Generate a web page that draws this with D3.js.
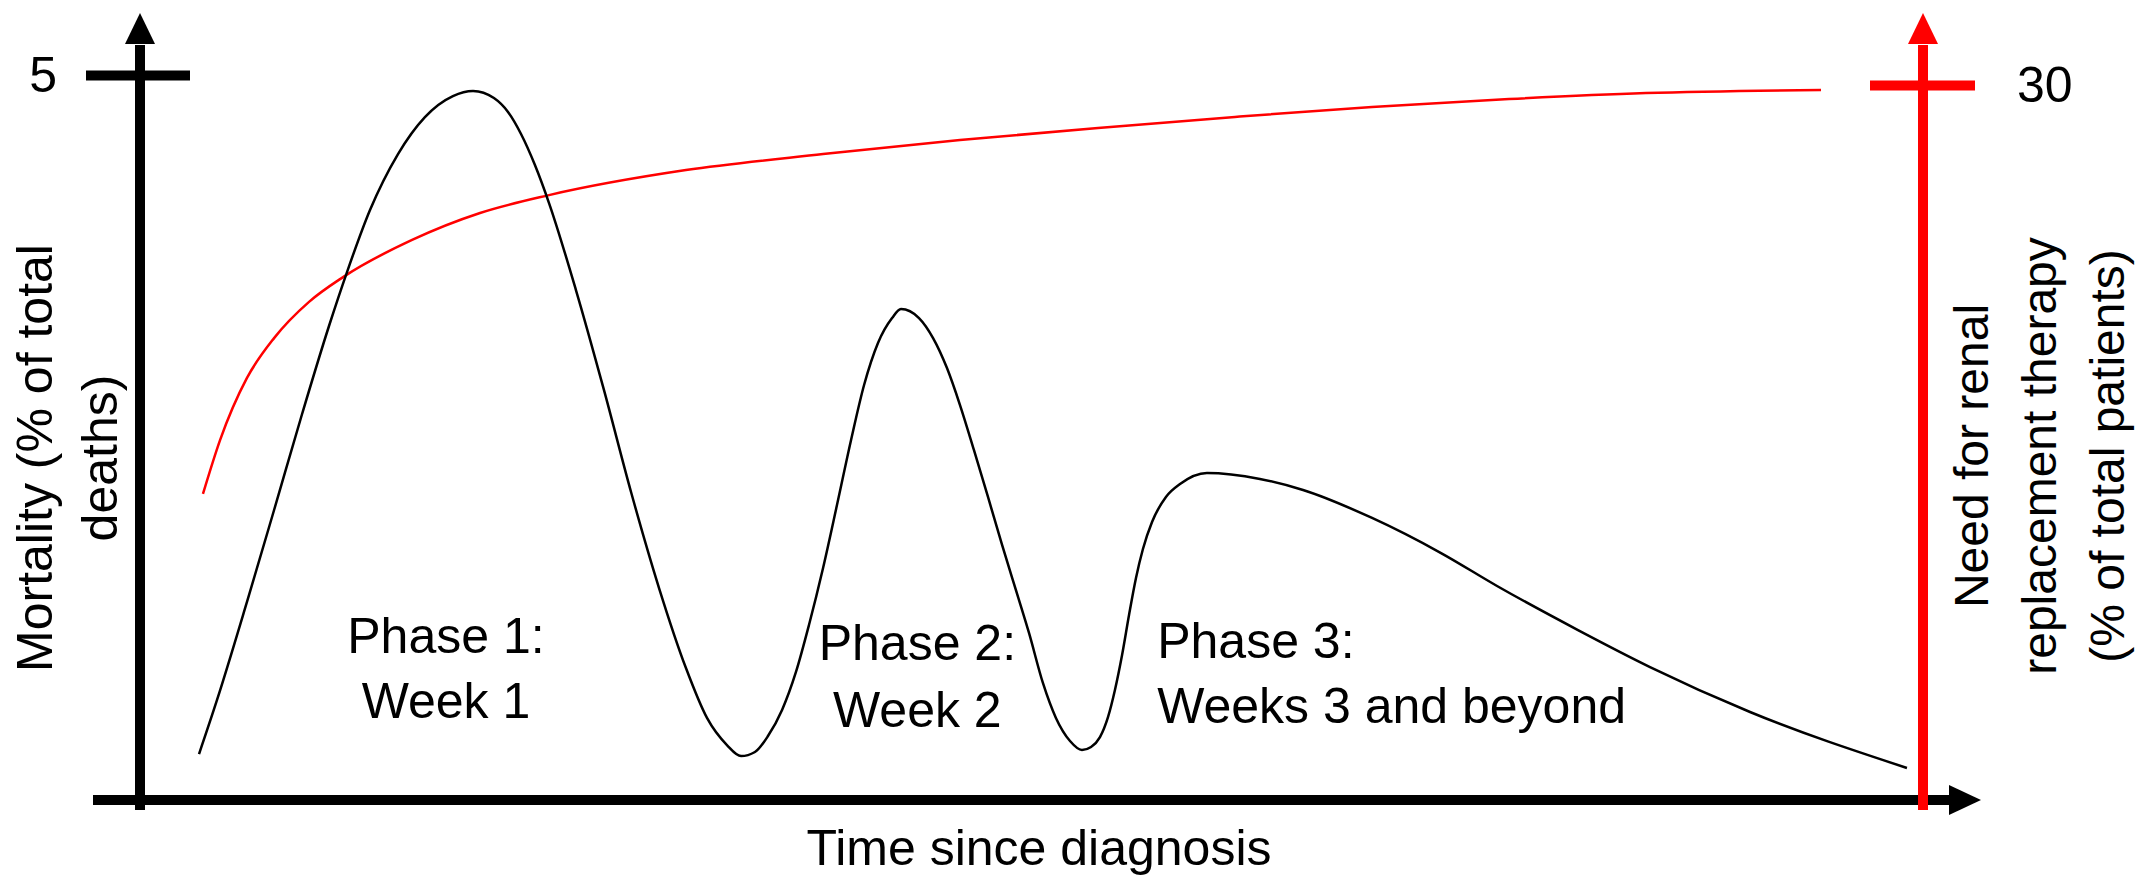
<!DOCTYPE html>
<html>
<head>
<meta charset="utf-8">
<script src="https://cdn.jsdelivr.net/npm/d3@7"></script>
<style>
  html, body { margin: 0; padding: 0; background: #fff; }
  svg { display: block; }
  text { font-family: "Liberation Sans", Arial, sans-serif; fill: #000; }
</style>
</head>
<body>
<svg id="chart" width="2151" height="894"></svg>
<script>
// ---- Data (time in arbitrary units since diagnosis, 0..100) ----
const mortalityTime = [3.31, 4.32, 6.00, 7.52, 9.09, 10.60, 11.61, 12.90, 14.47, 15.98, 17.55, 18.68, 19.85, 20.64, 21.37, 22.15, 22.94, 24.45, 26.02, 27.54, 29.11, 30.62, 31.80, 32.92, 33.71, 34.49, 35.22, 36.01, 36.79, 37.52, 38.31, 39.09, 39.88, 40.61, 41.39, 42.18, 42.68, 43.69, 44.48, 45.26, 45.99, 46.77, 47.56, 48.35, 49.30, 49.86, 50.64, 51.37, 52.16, 52.83, 53.34, 53.84, 54.29, 54.68, 55.08, 55.47, 55.86, 56.25, 56.76, 57.54, 58.33, 59.84, 62.81, 65.23, 69.10, 72.97, 76.11, 80.65, 84.69, 90.30, 99.10];
const mortalityValue = [0.317, 0.690, 1.366, 2.000, 2.662, 3.269, 3.641, 4.069, 4.455, 4.710, 4.855, 4.890, 4.841, 4.745, 4.593, 4.379, 4.117, 3.517, 2.828, 2.124, 1.462, 0.910, 0.566, 0.379, 0.303, 0.331, 0.441, 0.621, 0.883, 1.207, 1.600, 2.034, 2.483, 2.862, 3.152, 3.324, 3.386, 3.324, 3.186, 2.979, 2.724, 2.414, 2.090, 1.759, 1.379, 1.152, 0.807, 0.566, 0.407, 0.345, 0.366, 0.434, 0.572, 0.759, 1.000, 1.276, 1.531, 1.731, 1.917, 2.090, 2.179, 2.255, 2.214, 2.138, 1.945, 1.703, 1.476, 1.172, 0.917, 0.607, 0.221];

const rrtTime  = [3.53, 4.49, 6.00, 7.52, 9.48, 11.39, 15.26, 19.07, 22.94, 30.62, 38.31, 45.99, 53.73, 61.41, 69.10, 76.78, 84.46, 94.28];
const rrtValue = [12.84, 15.10, 17.71, 19.38, 20.90, 21.94, 23.50, 24.63, 25.38, 26.43, 27.10, 27.69, 28.20, 28.66, 29.08, 29.41, 29.66, 29.79];

const leftTicks = [5];
const rightTicks = [30];
const phaseLine1 = ["Phase 1:", "Phase 2:", "Phase 3:"];
const phaseLine2 = ["Week 1", "Week 2", "Weeks 3 and beyond"];
const xTitle = "Time since diagnosis";
const leftTitle = ["Mortality (% of total", "deaths)"];
const rightTitle = ["Need for renal", "replacement therapy", "(% of total patients)"];

// ---- Scales ----
const x = d3.scaleLinear().domain([0, 100]).range([140, 1923]);
const yL = d3.scaleLinear().domain([0, 5]).range([800, 75]);
const yR = d3.scaleLinear().domain([0, 30]).range([800, 85]);

const svg = d3.select("#chart");
const FS = 50;
const FONT = '"Liberation Sans", Arial, sans-serif';

// ---- Axes lines with arrows ----
const x0 = x(0), x1 = x(100), yb = yL(0);
// bottom axis
svg.append("line").attr("x1", x0 - 47).attr("x2", x1 + 28).attr("y1", yb).attr("y2", yb)
  .attr("stroke", "#000").attr("stroke-width", 10);
svg.append("path").attr("d", `M${x1 + 26},${yb - 15} L${x1 + 58},${yb} L${x1 + 26},${yb + 15} Z`).attr("fill", "#000");
// left axis
svg.append("line").attr("x1", x0).attr("x2", x0).attr("y1", yb + 10).attr("y2", 45)
  .attr("stroke", "#000").attr("stroke-width", 10);
svg.append("path").attr("d", `M${x0 - 15},44 L${x0},13 L${x0 + 15},44 Z`).attr("fill", "#000");

// left tick via d3 axis
const axL = svg.append("g").attr("transform", `translate(${x0},0)`)
  .call(d3.axisLeft(yL).tickValues(leftTicks).tickFormat(d3.format("d")).tickSize(54).tickPadding(29).tickSizeOuter(0));
axL.select(".domain").remove();
axL.selectAll(".tick line").attr("x1", 50).attr("x2", -54).attr("stroke", "#000").attr("stroke-width", 10);
axL.selectAll(".tick text").attr("font-size", FS).attr("font-family", FONT).attr("fill", "#000");

// ---- Curves ----
const mortData = mortalityTime.map((t, i) => [t, mortalityValue[i]]);
const rrtData = rrtTime.map((t, i) => [t, rrtValue[i]]);

svg.append("path").datum(rrtData)
  .attr("fill", "none").attr("stroke", "#ff0000").attr("stroke-width", 2.5)
  .attr("d", d3.line().x(d => x(d[0])).y(d => yR(d[1])).curve(d3.curveMonotoneX));

svg.append("path").datum(mortData)
  .attr("fill", "none").attr("stroke", "#000").attr("stroke-width", 2.5)
  .attr("d", d3.line().x(d => x(d[0])).y(d => yL(d[1])).curve(d3.curveMonotoneX));

// right (red) axis
svg.append("line").attr("x1", x1).attr("x2", x1).attr("y1", yb + 10).attr("y2", 45)
  .attr("stroke", "#ff0000").attr("stroke-width", 10);
svg.append("path").attr("d", `M${x1 - 15},44 L${x1},13 L${x1 + 15},44 Z`).attr("fill", "#ff0000");
const axR = svg.append("g").attr("transform", `translate(${x1},0)`)
  .call(d3.axisRight(yR).tickValues(rightTicks).tickFormat(d3.format("d")).tickSize(52).tickPadding(42).tickSizeOuter(0));
axR.select(".domain").remove();
axR.selectAll(".tick line").attr("x1", -53).attr("x2", 52).attr("stroke", "#ff0000").attr("stroke-width", 10);
axR.selectAll(".tick text").attr("font-size", FS).attr("font-family", FONT).attr("fill", "#000");

// ---- Phase labels ----
const phasePos = [
  {t: 17.16, anchor: "middle", y1: 653, y2: 718},
  {t: 43.6,  anchor: "middle", y1: 660, y2: 727},
  {t: 57.05, anchor: "start",  y1: 658, y2: 723}
];
phasePos.forEach((p, i) => {
  const tx = svg.append("text").attr("font-size", FS).attr("text-anchor", p.anchor);
  tx.append("tspan").attr("x", x(p.t)).attr("y", p.y1).text(phaseLine1[i]);
  tx.append("tspan").attr("x", x(p.t)).attr("y", p.y2).text(phaseLine2[i]);
});

// ---- Axis titles ----
svg.append("text").attr("x", 1039).attr("y", 865).attr("text-anchor", "middle")
  .attr("font-size", FS).text(xTitle);

const lt = svg.append("text").attr("transform", "translate(0,458) rotate(-90)")
  .attr("text-anchor", "middle").attr("font-size", FS);
leftTitle.forEach((s, i) => lt.append("tspan").attr("x", 0).attr("y", 52 + i * 65).text(s));

const rt = svg.append("text").attr("transform", "translate(0,456) rotate(-90)")
  .attr("text-anchor", "middle").attr("font-size", 48);
rightTitle.forEach((s, i) => rt.append("tspan").attr("x", 0).attr("y", 1988 + i * 68).text(s));
</script>
</body>
</html>
